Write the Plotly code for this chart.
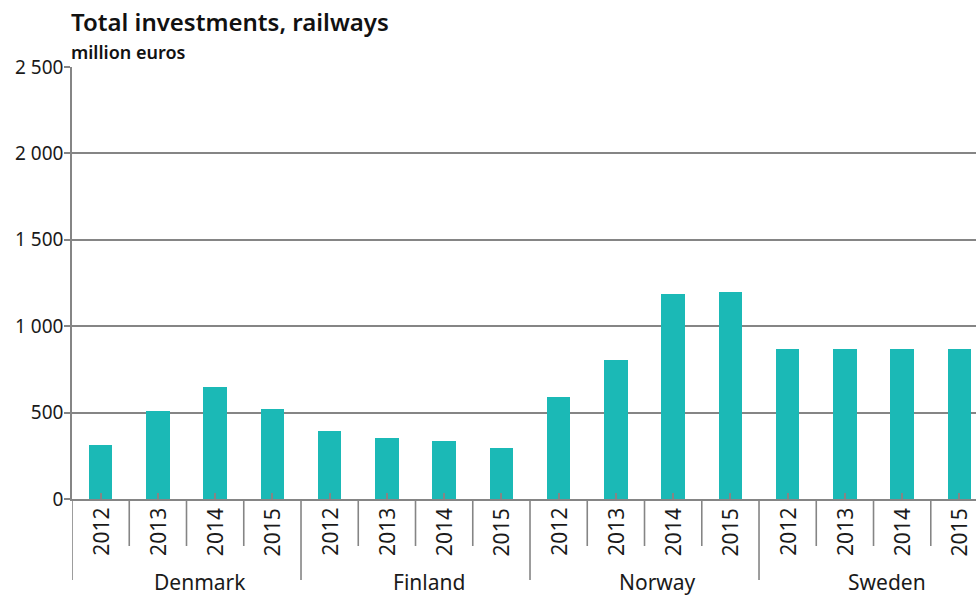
import plotly.graph_objects as go

# Railway investments by country and year, million euros
countries = ["Denmark", "Finland", "Norway", "Sweden"]
years = ["2012", "2013", "2014", "2015"]
denmark = [310, 510, 650, 520]
finland = [395, 355, 335, 295]
norway = [590, 805, 1185, 1198]
sweden = [868, 868, 868, 868]
y_tick_values = [0, 500, 1000, 1500, 2000, 2500]
y_tick_labels = ["0", "500", "1 000", "1 500", "2 000", "2 500"]

series = [denmark, finland, norway, sweden]
categories = [f"{c} {y}" for c in countries for y in years]
values = [v for s in series for v in s]

BAR = "#1bb9b6"
GRID = "#858585"
TEXT = "#1a1a1a"
FONT = "Noto Sans"

fig = go.Figure(
    go.Bar(
        x=categories,
        y=values,
        width=0.41,
        marker=dict(color=BAR, line=dict(width=0)),
        hoverinfo="x+y",
    )
)

top_px, bottom_px = 67, 98
plot_h = 597 - top_px - bottom_px  # plot-area height in px


def below(px):
    """Paper y coordinate for a point px pixels below the x axis."""
    return -px / plot_h


def from_top(px):
    """Paper y coordinate for a point px pixels from the top of the page."""
    return 1 + (top_px - px) / plot_h


shapes = []
n_years = len(years)
for i in range(len(categories) + 1):
    if i % n_years == 0:
        depth = 81  # country divider
    else:
        depth = 47  # year divider
    shapes.append(dict(type="line", xref="x", yref="paper",
                       x0=i - 0.5, x1=i - 0.5, y0=0, y1=below(depth),
                       line=dict(color=GRID, width=1.6)))

annotations = []
for idx, cat in enumerate(categories):
    annotations.append(dict(
        x=idx, y=below(8), xref="x", yref="paper",
        text=years[idx % n_years], textangle=-90, showarrow=False,
        xanchor="center", yanchor="top", borderpad=0,
        font=dict(family=FONT, size=21, color=TEXT)))

for g, c in enumerate(countries):
    annotations.append(dict(
        x=g * n_years + (n_years - 1) / 2, y=below(bottom_px), xref="x", yref="paper",
        text=c, showarrow=False, xanchor="center", yanchor="bottom", xshift=13,
        borderpad=0, font=dict(family=FONT, size=21, color=TEXT)))

annotations.append(dict(
    x=0, y=from_top(39.5), xref="paper", yref="paper", xanchor="left", yanchor="bottom",
    text="Total investments, railways", showarrow=False, xshift=-2, borderpad=0,
    font=dict(family=FONT, size=24, color="#111111", weight=600)))
annotations.append(dict(
    x=0, y=from_top(39.5), xref="paper", yref="paper", xanchor="left", yanchor="top",
    text="million euros", showarrow=False, xshift=-2, borderpad=0,
    font=dict(family=FONT, size=18, color="#111111", weight=600)))

fig.update_layout(
    width=976, height=597, autosize=False,
    margin=dict(l=72, r=0, t=top_px, b=bottom_px, pad=0),
    paper_bgcolor="white", plot_bgcolor="white",
    showlegend=False,
    bargap=0,
    font=dict(family=FONT, color=TEXT),
    shapes=shapes,
    annotations=annotations,
    xaxis=dict(
        type="category", categoryorder="array", categoryarray=categories,
        range=[-0.5, 15.29],
        showticklabels=False, ticks="inside", ticklen=6, tickwidth=1.6, tickcolor=GRID,
        showgrid=False, showline=True, linecolor=GRID, linewidth=1.6,
        zeroline=False,
    ),
    yaxis=dict(
        range=[0, 2500], tickmode="array", tickvals=y_tick_values, ticktext=y_tick_labels,
        ticks="outside", ticklen=6, tickwidth=1.6, tickcolor=GRID,
        ticklabelstandoff=-3,
        showgrid=True, gridcolor=GRID, gridwidth=1.6,
        showline=True, linecolor=GRID, linewidth=1.6, zeroline=False,
        tickfont=dict(family=FONT, size=19, color=TEXT),
    ),
)

fig.write_html("out.html")
